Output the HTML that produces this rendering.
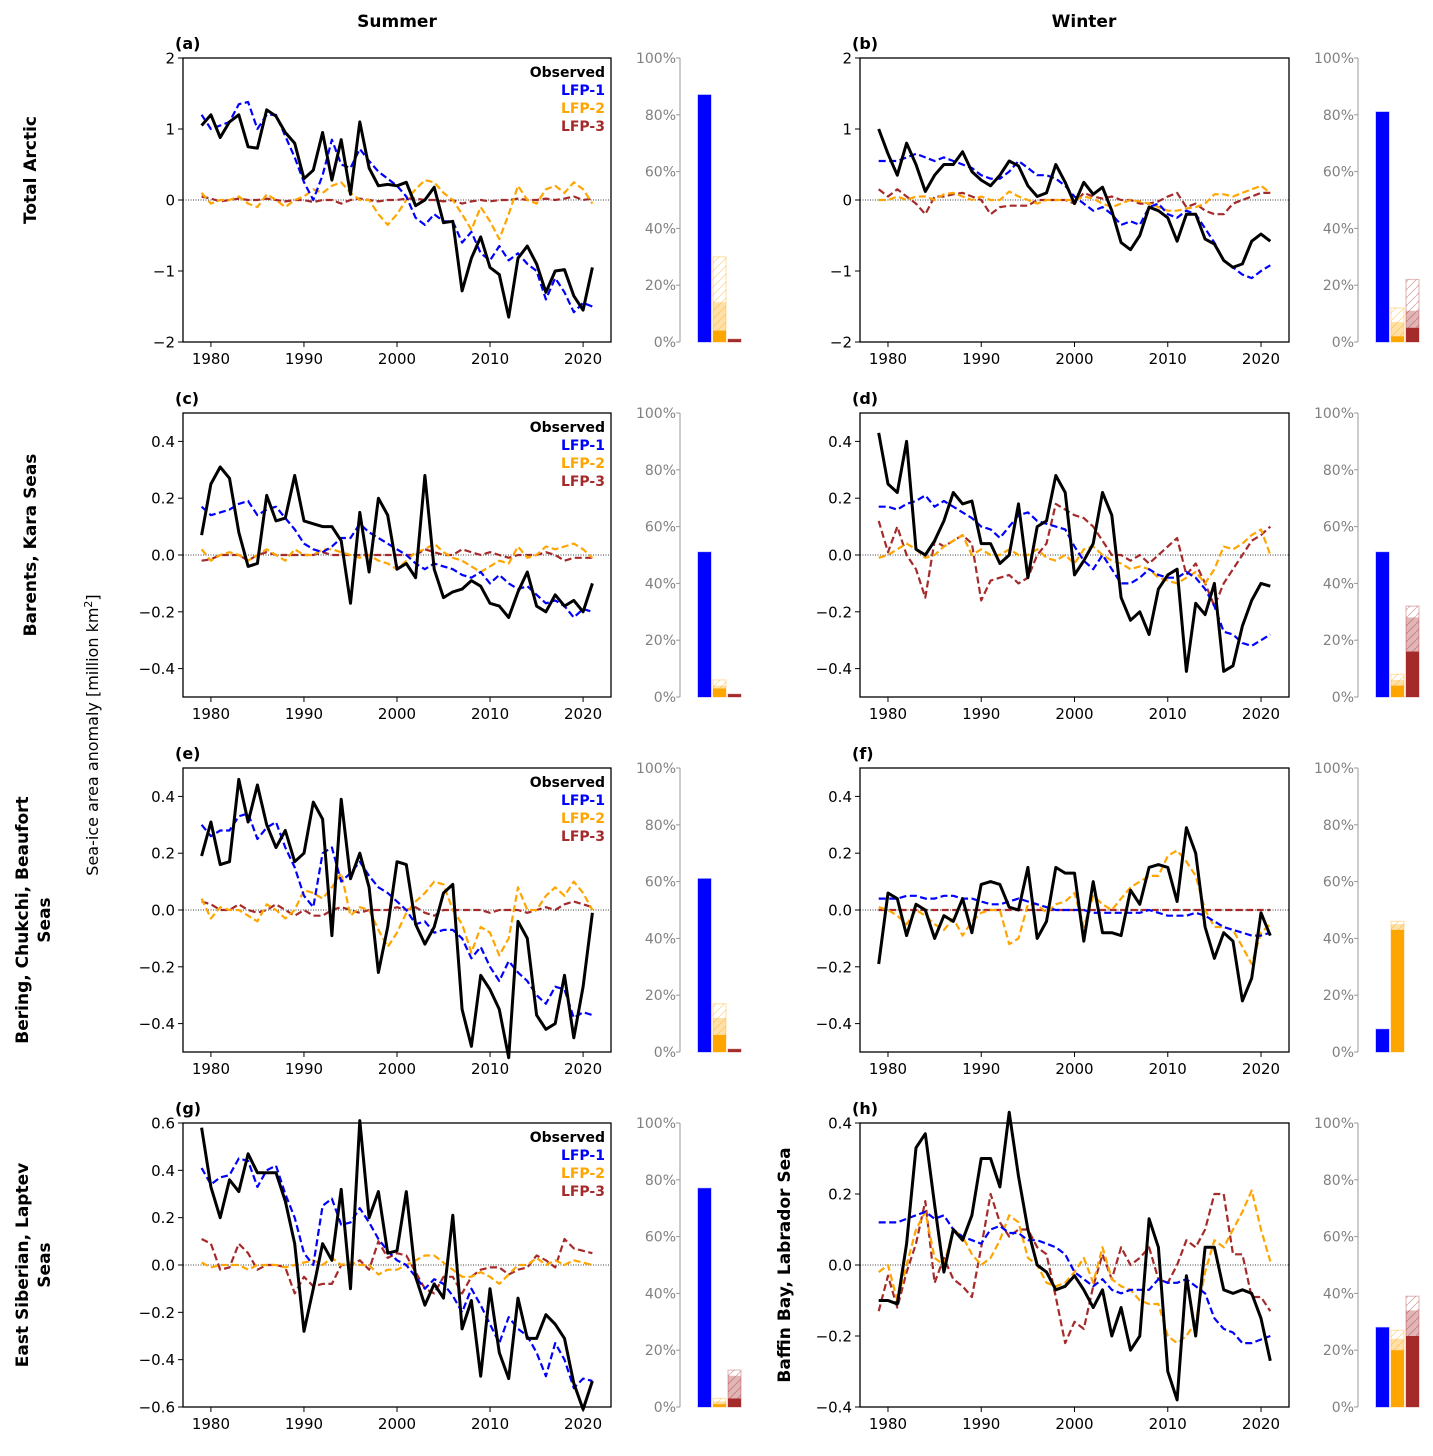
<!DOCTYPE html>
<html><head><meta charset="utf-8"><style>
body{margin:0;background:#fff;}
svg text{font-family:"DejaVu Sans","Liberation Sans",sans-serif;}
</style></head><body>
<svg id="fig" width="1433" height="1451" xmlns="http://www.w3.org/2000/svg">
<defs>
<pattern id="hatchO" patternUnits="userSpaceOnUse" width="8" height="8"><path d="M0,8 L8,0" stroke="#ffa500" stroke-opacity="0.35" stroke-width="1"/></pattern>
<pattern id="hatchR" patternUnits="userSpaceOnUse" width="8" height="8"><path d="M0,8 L8,0" stroke="#a52a2a" stroke-opacity="0.35" stroke-width="1"/></pattern>
<pattern id="hatchB" patternUnits="userSpaceOnUse" width="8" height="8"><path d="M0,8 L8,0" stroke="#0000ff" stroke-opacity="0.35" stroke-width="1"/></pattern>
</defs>
<text x="397" y="27" font-size="17" font-weight="bold" text-anchor="middle">Summer</text>
<text x="1084" y="27" font-size="17" font-weight="bold" text-anchor="middle">Winter</text>
<text transform="translate(98,735) rotate(-90)" font-size="16" text-anchor="middle">Sea-ice area anomaly [million km<tspan baseline-shift="super" font-size="11">2</tspan>]</text>
<text transform="translate(36,170) rotate(-90)" font-size="17" font-weight="bold" text-anchor="middle">Total Arctic</text>
<text transform="translate(36,545) rotate(-90)" font-size="17" font-weight="bold" text-anchor="middle">Barents, Kara Seas</text>
<text transform="translate(28,920) rotate(-90)" font-size="17" font-weight="bold" text-anchor="middle">Bering, Chukchi, Beaufort</text>
<text transform="translate(50,920) rotate(-90)" font-size="17" font-weight="bold" text-anchor="middle">Seas</text>
<text transform="translate(28,1265) rotate(-90)" font-size="17" font-weight="bold" text-anchor="middle">East Siberian, Laptev</text>
<text transform="translate(50,1265) rotate(-90)" font-size="17" font-weight="bold" text-anchor="middle">Seas</text>
<text transform="translate(790,1265) rotate(-90)" font-size="17" font-weight="bold" text-anchor="middle">Baffin Bay, Labrador Sea</text>
</svg>
<script>
const years = []; for (let y = 1979; y <= 2021; y++) years.push(y);
const xTicks = [1980, 1990, 2000, 2010, 2020];
const barTicks = [0, 20, 40, 60, 80, 100];

const obsA = [1.05,1.2,0.88,1.1,1.2,0.75,0.73,1.27,1.18,0.95,0.8,0.3,0.42,0.95,0.28,0.85,0.08,1.1,0.45,0.2,0.22,0.2,0.25,-0.08,0.0,0.18,-0.32,-0.3,-1.28,-0.82,-0.52,-0.95,-1.05,-1.65,-0.82,-0.65,-0.9,-1.3,-1.0,-0.98,-1.35,-1.55,-0.95];
const lfp1A = [1.2,1.0,1.05,1.1,1.35,1.38,1.0,1.2,1.2,0.9,0.6,0.25,0.0,0.35,0.85,0.5,0.45,0.72,0.55,0.4,0.3,0.2,0.05,-0.25,-0.35,-0.2,-0.3,-0.3,-0.6,-0.45,-0.75,-0.85,-0.65,-0.85,-0.75,-0.9,-1.0,-1.4,-1.1,-1.3,-1.58,-1.45,-1.5];
const lfp2A = [0.1,-0.05,0.0,0.0,0.05,-0.05,-0.1,0.08,0.0,-0.1,0.0,0.05,0.15,0.1,0.2,0.25,0.1,0.0,0.0,-0.2,-0.35,-0.2,0.0,0.15,0.28,0.25,0.1,0.0,-0.2,-0.42,-0.1,-0.3,-0.55,-0.2,0.2,0.0,-0.05,0.15,0.2,0.1,0.25,0.15,-0.05];
const lfp3A = [0.05,0.02,-0.02,0,0.02,0,0,0.02,0,-0.02,0,0,-0.03,0,0,-0.05,0,0.02,0,-0.02,0,0,0.02,0.02,0,0,-0.02,0,-0.05,-0.02,0,-0.02,0,0,0.02,0,0,0.02,0,0.02,0.05,0,0.02];

const obsB = [1.0,0.65,0.35,0.8,0.5,0.12,0.35,0.5,0.5,0.68,0.4,0.28,0.2,0.35,0.55,0.48,0.2,0.05,0.1,0.5,0.25,-0.05,0.25,0.08,0.18,-0.15,-0.6,-0.7,-0.5,-0.1,-0.15,-0.25,-0.58,-0.2,-0.2,-0.55,-0.62,-0.85,-0.95,-0.9,-0.58,-0.48,-0.58];
const lfp1B = [0.55,0.55,0.55,0.6,0.65,0.6,0.55,0.6,0.55,0.5,0.45,0.35,0.3,0.3,0.4,0.55,0.45,0.35,0.35,0.3,0.2,0.05,-0.05,-0.15,-0.1,-0.2,-0.35,-0.3,-0.35,-0.1,-0.05,-0.2,-0.25,-0.15,-0.2,-0.4,-0.6,-0.85,-0.95,-1.05,-1.1,-1.0,-0.92];
const lfp2B = [0,0,0.05,0,0.05,0.05,0,0.08,0.1,0.05,0,0.05,0,0,0.12,0.05,0,-0.05,0,0,0,0,0.05,0.02,-0.05,-0.1,-0.05,0,-0.02,-0.05,-0.1,-0.15,-0.15,-0.12,-0.1,-0.05,0.08,0.08,0.05,0.1,0.15,0.2,0.1];
const lfp3B = [0.15,0.05,0.15,0.05,-0.05,-0.2,0.05,0.05,0.08,0.1,0.05,0.0,-0.2,-0.1,-0.08,-0.08,-0.08,0,0,0,0,-0.05,0.1,0.05,0.02,0.05,0,0,-0.05,-0.05,-0.02,0.05,0.1,-0.1,-0.05,-0.15,-0.2,-0.2,-0.05,0,0.05,0.1,0.1];

const obsC = [0.07,0.25,0.31,0.27,0.08,-0.04,-0.03,0.21,0.12,0.13,0.28,0.12,0.11,0.1,0.1,0.05,-0.17,0.15,-0.06,0.2,0.14,-0.05,-0.03,-0.08,0.28,-0.05,-0.15,-0.13,-0.12,-0.09,-0.11,-0.17,-0.18,-0.22,-0.13,-0.06,-0.18,-0.2,-0.14,-0.18,-0.16,-0.2,-0.1];
const lfp1C = [0.17,0.14,0.15,0.16,0.18,0.19,0.14,0.16,0.17,0.13,0.09,0.04,0.02,0.01,0.03,0.06,0.06,0.11,0.08,0.06,0.04,0.02,0.0,-0.03,-0.05,-0.03,-0.04,-0.05,-0.07,-0.08,-0.06,-0.1,-0.07,-0.1,-0.12,-0.11,-0.14,-0.17,-0.16,-0.18,-0.22,-0.19,-0.2];
const lfp2C = [0.02,-0.02,0.0,0.01,0.0,-0.02,0.0,0.02,0.0,-0.02,0.02,0.0,0.0,0.02,0.02,0.01,0.0,-0.01,0.0,-0.02,-0.03,-0.05,-0.02,0.01,0.02,0.04,0.01,-0.01,-0.02,-0.04,-0.06,-0.04,-0.02,-0.03,0.03,-0.01,0.0,0.03,0.02,0.03,0.04,0.02,-0.01];
const lfp3C = [-0.02,-0.015,0,0,0,-0.02,0,0.01,0,0,0,0,0,0.01,0,0,0,0,0,0,0,0,0,0,0.02,0.01,0,0,0.02,0.01,0,0.01,0,-0.01,0,0,0,0.01,0,-0.02,-0.01,-0.01,-0.01];

const obsD = [0.43,0.25,0.22,0.4,0.02,0.0,0.05,0.12,0.22,0.18,0.19,0.04,0.04,-0.03,0.0,0.18,-0.08,0.1,0.12,0.28,0.22,-0.07,-0.02,0.04,0.22,0.14,-0.15,-0.23,-0.2,-0.28,-0.12,-0.07,-0.05,-0.41,-0.17,-0.21,-0.1,-0.41,-0.39,-0.25,-0.16,-0.1,-0.11];
const lfp1D = [0.17,0.17,0.16,0.18,0.19,0.21,0.17,0.19,0.17,0.15,0.13,0.1,0.09,0.06,0.1,0.14,0.15,0.12,0.11,0.1,0.09,0.03,-0.02,-0.05,0.0,-0.05,-0.1,-0.1,-0.08,-0.05,-0.07,-0.08,-0.08,-0.06,-0.08,-0.12,-0.18,-0.27,-0.28,-0.31,-0.32,-0.3,-0.28];
const lfp2D = [-0.01,0.0,0.02,0.04,0.02,-0.01,0.0,0.03,0.05,0.07,0.0,0.02,0.0,0.0,0.02,0.0,0.0,0.02,-0.01,-0.02,0.0,-0.03,0.02,0.03,0.0,-0.02,-0.03,-0.05,-0.04,-0.05,-0.08,-0.09,-0.1,-0.08,-0.06,-0.1,-0.05,0.03,0.02,0.04,0.07,0.09,0.0];
const lfp3D = [0.12,0.01,0.1,0.0,-0.05,-0.15,0.05,0.03,0.05,0.07,0.04,-0.16,-0.09,-0.08,-0.07,-0.1,-0.08,0.0,0.04,0.18,0.16,0.14,0.13,0.1,0.05,0.0,0.0,-0.02,0.0,-0.03,0.0,0.03,0.06,-0.07,-0.03,-0.1,-0.18,-0.1,-0.05,0.0,0.05,0.07,0.1];

const obsE = [0.19,0.31,0.16,0.17,0.46,0.31,0.44,0.3,0.22,0.28,0.17,0.2,0.38,0.32,-0.09,0.39,0.11,0.2,0.08,-0.22,-0.06,0.17,0.16,-0.05,-0.12,-0.06,0.06,0.09,-0.35,-0.48,-0.23,-0.28,-0.35,-0.52,-0.04,-0.1,-0.37,-0.42,-0.4,-0.23,-0.45,-0.27,-0.01];
const lfp1E = [0.3,0.26,0.28,0.28,0.33,0.34,0.25,0.29,0.31,0.22,0.15,0.05,0.01,0.2,0.22,0.1,0.13,0.17,0.12,0.08,0.06,0.03,0.0,-0.05,-0.04,-0.08,-0.07,-0.07,-0.1,-0.17,-0.13,-0.2,-0.25,-0.18,-0.22,-0.25,-0.3,-0.33,-0.27,-0.28,-0.38,-0.36,-0.37];
const lfp2E = [0.04,-0.03,0.01,0.0,0.0,-0.02,-0.04,0.02,0.0,-0.03,0.0,0.07,0.06,0.04,0.08,0.13,-0.02,0.01,0.0,-0.07,-0.13,-0.08,-0.01,0.03,0.06,0.1,0.09,0.0,-0.05,-0.15,-0.06,-0.08,-0.16,-0.1,0.08,0.0,0.0,0.05,0.08,0.05,0.1,0.06,0.0];
const lfp3E = [0.03,0.02,0,0,0.02,0,-0.01,0,0.02,0,-0.02,0,-0.02,-0.02,0,0.01,0,-0.01,0,0,0,0.01,0,0.01,-0.01,-0.02,0,0,0,0,0,-0.01,0,0,0,-0.01,0,0.01,0,0.02,0.03,0.02,0.01];

const obsF = [-0.19,0.06,0.04,-0.09,0.02,0.0,-0.1,-0.02,-0.04,0.04,-0.08,0.09,0.1,0.09,0.01,0.0,0.15,-0.1,-0.04,0.15,0.13,0.13,-0.11,0.1,-0.08,-0.08,-0.09,0.07,0.02,0.15,0.16,0.15,0.03,0.29,0.2,-0.06,-0.17,-0.08,-0.11,-0.32,-0.24,-0.01,-0.09];
const lfp1F = [0.04,0.04,0.04,0.05,0.05,0.04,0.04,0.05,0.05,0.04,0.04,0.03,0.02,0.02,0.03,0.04,0.03,0.02,0.01,0.0,0.0,0.0,0.0,-0.01,-0.01,-0.01,-0.01,-0.01,-0.01,0.0,-0.01,-0.02,-0.02,-0.02,-0.01,-0.02,-0.04,-0.06,-0.07,-0.08,-0.09,-0.09,-0.08];
const lfp2F = [0.01,0.0,-0.02,-0.05,0.0,-0.02,-0.05,-0.07,-0.03,-0.09,-0.04,-0.01,0.0,0.0,-0.12,-0.1,0.02,0.02,-0.01,0.02,0.03,0.06,-0.06,0.05,0.02,0.0,0.04,0.08,0.1,0.12,0.12,0.19,0.21,0.17,0.12,0.0,-0.06,-0.06,-0.07,-0.13,-0.19,-0.08,-0.05];
const lfp3F = [0,0,0,0,0,0,0,0,0,0,0,0,0,0,0,0,0,0,0,0,0,0,0,0,0,0,0,0,0,0,0,0,0,0,0,0,0,0,0,0,0,0,0];

const obsG = [0.58,0.33,0.2,0.36,0.31,0.47,0.39,0.39,0.39,0.27,0.09,-0.28,-0.1,0.09,0.02,0.32,-0.1,0.61,0.2,0.31,0.05,0.06,0.31,-0.05,-0.17,-0.08,-0.14,0.21,-0.27,-0.15,-0.47,-0.1,-0.37,-0.48,-0.14,-0.31,-0.31,-0.21,-0.25,-0.31,-0.5,-0.61,-0.49];
const lfp1G = [0.41,0.34,0.37,0.38,0.45,0.44,0.33,0.4,0.42,0.3,0.2,0.05,0.0,0.25,0.28,0.17,0.18,0.24,0.18,0.11,0.06,0.02,0.0,-0.05,-0.1,-0.06,-0.08,-0.13,-0.2,-0.1,-0.17,-0.25,-0.33,-0.22,-0.27,-0.3,-0.37,-0.47,-0.33,-0.4,-0.52,-0.48,-0.49];
const lfp2G = [0.01,-0.01,0,0,0,-0.02,0,0,0,-0.01,0,0.01,0.02,0,0.03,0,0.01,0,0,-0.04,-0.02,-0.02,0,0.02,0.04,0.04,0.01,-0.02,-0.05,-0.05,-0.03,-0.05,-0.08,-0.04,0,0,0.03,0,0.02,0,0.02,0.01,0];
const lfp3G = [0.11,0.09,-0.02,-0.01,0.09,0.05,-0.02,0,0,-0.01,-0.12,-0.05,-0.09,-0.08,-0.08,0,0,0.02,-0.02,0.1,0.03,0.05,0.04,-0.03,-0.1,-0.12,-0.05,-0.05,-0.12,-0.05,-0.02,-0.01,-0.01,-0.04,-0.02,-0.01,0.04,0.02,-0.01,0.11,0.07,0.06,0.05];

const obsH = [-0.1,-0.1,-0.11,0.06,0.33,0.37,0.17,-0.02,0.1,0.07,0.14,0.3,0.3,0.22,0.43,0.25,0.1,0.0,-0.02,-0.07,-0.06,-0.03,-0.07,-0.12,-0.07,-0.2,-0.12,-0.24,-0.2,0.13,0.05,-0.3,-0.38,-0.03,-0.2,0.05,0.05,-0.07,-0.08,-0.07,-0.08,-0.15,-0.27];
const lfp1H = [0.12,0.12,0.12,0.13,0.14,0.15,0.13,0.14,0.1,0.08,0.07,0.06,0.1,0.11,0.09,0.09,0.07,0.07,0.06,0.05,0.03,-0.02,-0.04,-0.06,-0.04,-0.07,-0.08,-0.07,-0.07,-0.07,-0.04,-0.05,-0.05,-0.04,-0.06,-0.08,-0.15,-0.18,-0.19,-0.22,-0.22,-0.21,-0.2];
const lfp2H = [-0.02,0.0,-0.1,0.0,0.1,0.15,0.02,0.0,0.1,0.08,0.03,0.0,0.02,0.07,0.14,0.12,0.02,0.0,-0.05,-0.06,-0.05,-0.02,0.02,-0.05,0.05,-0.04,-0.06,-0.07,-0.1,-0.11,-0.11,-0.2,-0.22,-0.2,-0.16,-0.02,0.07,0.05,0.1,0.15,0.21,0.1,0.01];
const lfp3H = [-0.13,-0.03,-0.12,-0.02,0.06,0.18,-0.05,0.02,-0.04,-0.06,-0.09,0.05,0.2,0.12,0.08,0.1,0.1,0.05,0.03,-0.09,-0.22,-0.16,-0.18,-0.06,0.03,-0.04,0.05,0.0,0.02,0.05,-0.04,-0.05,0.0,0.07,0.05,0.1,0.2,0.2,0.03,0.03,-0.09,-0.09,-0.13];

const barsA = [[87,87,87],[4,14,30],[1,1,1]];
const barsB = [[81,81,81],[2,7,12],[5,11,22]];
const barsC = [[51,51,51],[3,4,6],[1,1,1]];
const barsD = [[51,51,51],[4,6,8],[16,28,32]];
const barsE = [[61,61,61],[6,12,17],[1,1,1]];
const barsF = [[8,8,8],[43,45,46],[0,0,0]];
const barsG = [[77,77,77],[1,2,3],[3,11,13]];
const barsH = [[28,28,28],[20,24,27],[25,34,39]];

const panels = [
 {id:'a',col:0,row:0,ylim:[-2,2],yt:[-2,-1,0,1,2],fmt:v=>String(v).replace('-','−'),s:[obsA,lfp1A,lfp2A,lfp3A],bars:barsA,legend:true},
 {id:'b',col:1,row:0,ylim:[-2,2],yt:[-2,-1,0,1,2],fmt:v=>String(v).replace('-','−'),s:[obsB,lfp1B,lfp2B,lfp3B],bars:barsB},
 {id:'c',col:0,row:1,ylim:[-0.5,0.5],yt:[-0.4,-0.2,0,0.2,0.4],fmt:v=>v.toFixed(1).replace('-','−'),s:[obsC,lfp1C,lfp2C,lfp3C],bars:barsC,legend:true},
 {id:'d',col:1,row:1,ylim:[-0.5,0.5],yt:[-0.4,-0.2,0,0.2,0.4],fmt:v=>v.toFixed(1).replace('-','−'),s:[obsD,lfp1D,lfp2D,lfp3D],bars:barsD},
 {id:'e',col:0,row:2,ylim:[-0.5,0.5],yt:[-0.4,-0.2,0,0.2,0.4],fmt:v=>v.toFixed(1).replace('-','−'),s:[obsE,lfp1E,lfp2E,lfp3E],bars:barsE,legend:true},
 {id:'f',col:1,row:2,ylim:[-0.5,0.5],yt:[-0.4,-0.2,0,0.2,0.4],fmt:v=>v.toFixed(1).replace('-','−'),s:[obsF,lfp1F,lfp2F,lfp3F],bars:barsF},
 {id:'g',col:0,row:3,ylim:[-0.6,0.6],yt:[-0.6,-0.4,-0.2,0,0.2,0.4,0.6],fmt:v=>v.toFixed(1).replace('-','−'),s:[obsG,lfp1G,lfp2G,lfp3G],bars:barsG,legend:true},
 {id:'h',col:1,row:3,ylim:[-0.4,0.4],yt:[-0.4,-0.2,0,0.2,0.4],fmt:v=>v.toFixed(1).replace('-','−'),s:[obsH,lfp1H,lfp2H,lfp3H],bars:barsH}
];
const colors = ['#000000','#0000ff','#ffa500','#a52a2a'];
const names = ['Observed','LFP-1','LFP-2','LFP-3'];
const NS = 'http://www.w3.org/2000/svg';
const svg = document.getElementById('fig');
function mk(tag, attrs, parent){ const e=document.createElementNS(NS,tag); for(const k in attrs) e.setAttribute(k,attrs[k]); (parent||svg).appendChild(e); return e; }

panels.forEach(p=>{
  const L = p.col===0?183:860, R = p.col===0?611:1289;
  const T = [58,413,768,1123][p.row], B = T+284;
  const xs = yr => L + (yr-1977)/(2023-1977)*(R-L);
  const ys = v => B - (v-p.ylim[0])/(p.ylim[1]-p.ylim[0])*(B-T);
  const g = mk('g',{});
  
  
  const z = mk('line',{x1:L,x2:R,y1:ys(0),y2:ys(0),stroke:'#000','stroke-width':0.8,'stroke-dasharray':'1,1.5'},g);
  
  
  [3,2,1,0].forEach(i=>{
    const d = p.s[i].map((v,k)=>(k?'L':'M')+xs(years[k]).toFixed(1)+','+ys(v).toFixed(1)).join(' ');
    const path = mk('path',{d:d,fill:'none',stroke:colors[i],'stroke-width':i===0?3:2.2,'stroke-dasharray':i===0?'none':'7,3.5','stroke-linejoin':'round'},g);
    
    
  });
  const fr = mk('rect',{x:L,y:T,width:R-L,height:B-T,fill:'none',stroke:'#000','stroke-width':1.3},g);
  
  
  xTicks.forEach(t=>{
    mk('line',{x1:xs(t),x2:xs(t),y1:B,y2:B+5,stroke:'#000','stroke-width':1},g);
    const tx = mk('text',{x:xs(t),y:B+22,'font-size':15,'text-anchor':'middle'},g);
    tx.textContent=t;
    
    
  });
  p.yt.forEach(t=>{
    mk('line',{x1:L-5,x2:L,y1:ys(t),y2:ys(t),stroke:'#000','stroke-width':1},g);
    const tx = mk('text',{x:L-8,y:ys(t)+5.5,'font-size':15,'text-anchor':'end'},g);
    tx.textContent=p.fmt(t);
    
    
  });
  const lab = mk('text',{x:L-8,y:T-9,'font-size':16,'font-weight':'bold'},g);
  lab.textContent='('+p.id+')';
  
  
  if(p.legend){
    names.forEach((n,i)=>{
      const t = mk('text',{x:R-6,y:T+19+i*18,'font-size':14,'font-weight':'bold','text-anchor':'end',fill:colors[i]},g);
      t.textContent=n;
      
      
    });
  }
  const BL = p.col===0?680:1358;
  const by = v => B - v/100*(B-T);
  mk('line',{x1:BL,x2:BL,y1:T,y2:B,stroke:'#999','stroke-width':1},g);
  barTicks.forEach(t=>{
    mk('line',{x1:BL-4,x2:BL,y1:by(t),y2:by(t),stroke:'#999','stroke-width':1},g);
    const tx = mk('text',{x:BL-4,y:by(t)+5,'font-size':14,'text-anchor':'end',fill:'#808080'},g);
    tx.textContent=t+'%';
    
    
  });
  const hatches=['url(#hatchB)','url(#hatchO)','url(#hatchR)'];
  p.bars.forEach((b,i)=>{
    const bx = BL+18+i*15, bw=13, c=colors[i+1];
    if(b[2]>0){
      const r3 = mk('rect',{x:bx,y:by(b[2]),width:bw,height:B-by(b[2]),fill:hatches[i],stroke:c,'stroke-opacity':0.3,'stroke-width':1.2},g);
      
      
      const r2 = mk('rect',{x:bx,y:by(b[1]),width:bw,height:B-by(b[1]),fill:c,'fill-opacity':0.35},g);
      
      
      const r1 = mk('rect',{x:bx,y:by(b[0]),width:bw,height:B-by(b[0]),fill:c},g);
      
      
    }
  });
});
</script>
</body></html>
